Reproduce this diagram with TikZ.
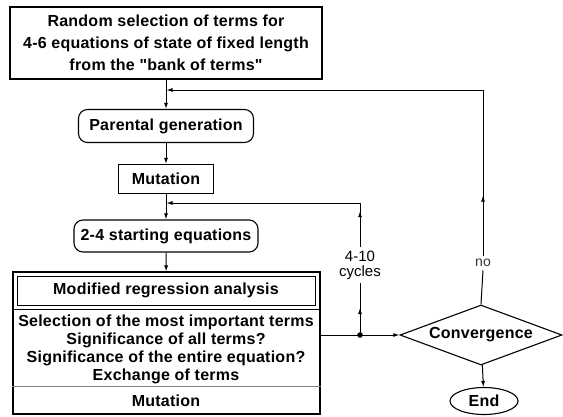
\documentclass[tikz,border=0pt]{standalone}
\usepackage{fontspec}
\setmainfont{Liberation Sans}[Ligatures=TeXOff]
\usetikzlibrary{positioning}
\usetikzlibrary{shapes.geometric}
\usetikzlibrary{arrows.meta}
\tikzset{>={Latex[length=6pt,width=4pt]}}
\newcommand{\boxfont}{\bfseries\addfontfeature{LetterSpace=1.5}\fontsize{16}{18}\selectfont}
\tikzset{box/.style={draw, line width=1.1pt, inner sep=0pt, font=\boxfont}}
\tikzset{rbox/.style={box, rounded corners=9pt}}
\tikzset{line/.style={line width=1pt}}

\begin{document}
\begin{tikzpicture}[x=1pt,y=-1pt]
\useasboundingbox (0,0) rectangle (563,416);
\node[box, line width=1.4pt, minimum width=312, minimum height=72, align=center,
  font=\boxfont\fontsize{16}{22}\selectfont] (random) at (166,43)
  {Random selection of terms for\\4-6 equations of state of fixed length\\from the "bank of terms"};
\node[rbox, minimum width=175, minimum height=33] (parent) at (166,126) {Parental generation};
\node[box, minimum width=95, minimum height=29] (mut1) at (166,179) {Mutation};
\node[rbox, minimum width=184, minimum height=32] (start) at (166,236) {2-4 starting equations};
% composite box
\node[box, minimum width=307, minimum height=142] (bigbox) at (166.5,343) {};
\node[box, line width=0.9pt, minimum width=298, minimum height=29] (regr) at (166,290.5) {Modified regression analysis};
\node[box, draw=none, align=center] (select) at (166,349)
  {Selection of the most important terms\\Significance of all terms?\\Significance of the entire equation?\\Exchange of terms};
\node[box, draw=none] (mut2) at (166,401) {Mutation};
\draw[line] (bigbox.west |- 0,309) -- (bigbox.east |- 0,309);
\draw[line, gray] (bigbox.west |- 0,386) -- (bigbox.east |- 0,386);
\node[diamond, draw, line width=1.1pt, aspect=2.7, inner sep=0pt, minimum width=162, minimum height=60,
  font=\boxfont] (conv) at (481,335) {Convergence};
\node[ellipse, draw, line width=1.1pt, inner sep=0pt, minimum width=68, minimum height=27,
  font=\boxfont] (end) at (484,401) {End};
\node[align=center, font=\fontsize{15}{15}\selectfont] (cycles) at (360,265) {4-10\\cycles};
\node[font=\fontsize{14}{14}\selectfont, text=black!80] (no) at (483,263) {no};

\coordinate (topjoin) at (166,90);
\coordinate (loopjoin) at (166,203);
\coordinate (dot) at (360,335);

\draw[line,->] (random) -- (parent);
\draw[line,->] (parent) -- (mut1);
\draw[line,->] (mut1) -- (start);
\draw[line,->] (start) -- (bigbox);
\draw[line] (bigbox.east |- dot) -- (dot);
\fill (dot) circle (2.8pt);
\draw[line,->] (dot) -- (conv.west);
\draw[line,->] (conv) -- (end);
% 4-10 cycles loop
\draw[line,->] (dot) -- ++(0,-27);
\draw[line] (dot) -- (cycles.south);
\draw[line,->] (cycles.north) -- ++(0,-36);
\draw[line,->] (cycles.north) |- ([xshift=0.5pt]loopjoin);
% no loop
\draw[line] (conv.north) -- (no.south);
\draw[line,->] (no.north) -- ++(0,-60);
\draw[line,->] (no.north) |- ([xshift=0.5pt]topjoin);
\end{tikzpicture}
\end{document}
